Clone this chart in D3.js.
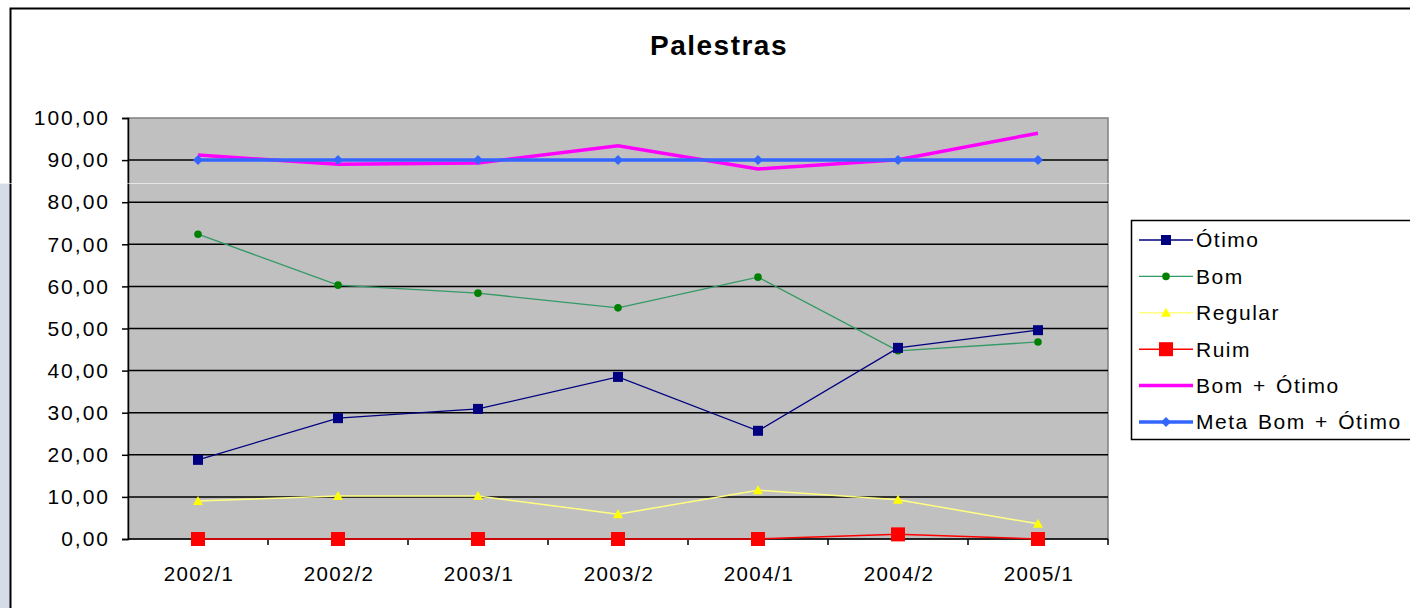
<!DOCTYPE html>
<html>
<head>
<meta charset="utf-8">
<script src="https://cdn.jsdelivr.net/npm/d3@7"></script>
<style>
  body { margin: 0; background: #fff; }
  svg { display: block; font-family: "Liberation Sans", Arial, sans-serif; }
</style>
</head>
<body>
<script>
// chart data
const categories = ["2002/1", "2002/2", "2003/1", "2003/2", "2004/1", "2004/2", "2005/1"];
const otimo = [18.8, 28.7, 30.9, 38.5, 25.7, 45.4, 49.6];
const bom = [72.4, 60.3, 58.4, 54.9, 62.2, 44.7, 46.8];
const regular = [9.0, 10.2, 10.2, 5.9, 11.6, 9.3, 3.6];
const ruim = [0, 0, 0, 0, 0, 1.1, 0];
const bomOtimo = [91.2, 89.0, 89.3, 93.4, 87.9, 90.1, 96.4];
const meta = [90, 90, 90, 90, 90, 90, 90];
const yTicks = [0, 10, 20, 30, 40, 50, 60, 70, 80, 90, 100];

const series = [
  {name: "Ótimo", values: otimo, line: "#000080", width: 1.3, marker: "square", mfill: "#000080", msize: 10},
  {name: "Bom", values: bom, line: "#339966", width: 1.3, marker: "circle", mfill: "#008000", msize: 8},
  {name: "Regular", values: regular, line: "#ffff80", width: 1.5, marker: "triangle", mfill: "#ffff00", msize: 10},
  {name: "Ruim", values: ruim, line: "#ff0000", width: 1.5, marker: "square", mfill: "#ff0000", msize: 14},
  {name: "Bom + Ótimo", values: bomOtimo, line: "#ff00ff", width: 3.5, marker: null},
  {name: "Meta Bom + Ótimo", values: meta, line: "#3366ff", width: 3.5, marker: "diamond", mfill: "#3366ff", msize: 10}
];

const W = 1410, H = 608;
const svg = d3.select("body").append("svg").attr("width", W).attr("height", H);

// slide strip on the left + frame
svg.append("rect").attr("x", 0).attr("y", 183).attr("width", 10).attr("height", H - 183).attr("fill", "#d5dbe8");
svg.append("rect").attr("x", 10.5).attr("y", 8.5).attr("width", W + 20).attr("height", H + 20)
  .attr("fill", "#fff").attr("stroke", "#000").attr("stroke-width", 2);

const x = d3.scaleBand().domain(categories).range([128, 1108]);
const y = d3.scaleLinear().domain([0, 100]).range([539, 118]);

// plot area
svg.append("rect").attr("x", 128).attr("y", 118).attr("width", 980).attr("height", 421)
  .attr("fill", "#c0c0c0").attr("stroke", "#808080").attr("stroke-width", 1.5);

// gridlines
svg.append("g").selectAll("line").data(yTicks.filter(d => d > 0 && d < 100)).enter().append("line")
  .attr("x1", 128).attr("x2", 1108).attr("y1", d => y(d)).attr("y2", d => y(d))
  .attr("stroke", "#000").attr("stroke-width", 1.5);

// y axis
const yAxis = svg.append("g").attr("transform", "translate(128,0)")
  .call(d3.axisLeft(y).tickValues(yTicks).tickSize(6).tickPadding(12)
    .tickFormat(d => d3.format(".2f")(d).replace(".", ",")));
// x axis
const xAxis = svg.append("g").attr("transform", "translate(0,539)")
  .call(d3.axisBottom(x).tickSize(0).tickPadding(27));
xAxis.selectAll(".tick").each(function(d, i) {
  d3.select(this).append("line").attr("x1", x.bandwidth() / 2).attr("x2", x.bandwidth() / 2)
    .attr("y1", 0).attr("y2", 6).attr("stroke", "#000").attr("stroke-width", 1.5);
});
[yAxis, xAxis].forEach(a => {
  a.select(".domain").attr("stroke", "#000").attr("stroke-width", 1.5);
  a.selectAll("line").attr("stroke", "#000").attr("stroke-width", 1.5);
  a.selectAll("text").attr("fill", "#000").attr("font-family", "Liberation Sans, Arial, sans-serif");
});
yAxis.selectAll("text").attr("font-size", 21).attr("letter-spacing", 2);
xAxis.selectAll("text").attr("font-size", 20.5).attr("letter-spacing", 1.3).attr("dx", "0.05em");
xAxis.select(".domain").attr("d", "M128,0H1108");

// faint slide artifact line
svg.append("line").attr("x1", 0).attr("x2", W).attr("y1", 183.5).attr("y2", 183.5)
  .attr("stroke", "#fff").attr("stroke-opacity", 0.6).attr("stroke-width", 1);

function markerPath(type, size) {
  const s = size / 2;
  if (type === "square") return `M${-s},${-s}H${s}V${s}H${-s}Z`;
  if (type === "diamond") return `M0,${-s}L${s},0L0,${s}L${-s},0Z`;
  if (type === "triangle") return `M0,${-s}L${s},${s * 0.8}L${-s},${s * 0.8}Z`;
  if (type === "circle") return d3.symbol(d3.symbolCircle, size * size * 0.7)();
  return "";
}

const cx = d => x(d) + x.bandwidth() / 2;
const line = d3.line().x((d, i) => cx(categories[i])).y(d => y(d));

const drawOrder = [4, 5, 1, 0, 2, 3];
drawOrder.forEach(k => {
  const s = series[k];
  const g = svg.append("g");
  g.append("path").attr("d", line(s.values)).attr("fill", "none")
    .attr("stroke", s.line).attr("stroke-width", s.width);
  if (s.marker) {
    g.selectAll("path.m").data(s.values).enter().append("path").attr("class", "m")
      .attr("transform", (d, i) => `translate(${cx(categories[i])},${y(d)})`)
      .attr("d", markerPath(s.marker, s.msize)).attr("fill", s.mfill);
  }
});

// title
svg.append("text").attr("x", 719).attr("y", 55).attr("text-anchor", "middle")
  .attr("font-size", 28).attr("font-weight", "bold").attr("letter-spacing", 1.5).text("Palestras");

// legend
const legend = svg.append("g");
legend.append("rect").attr("x", 1131.5).attr("y", 220.5).attr("width", 300).attr("height", 219)
  .attr("fill", "#fff").attr("stroke", "#000").attr("stroke-width", 1.5);
const legY = d3.scalePoint().domain(series.map(s => s.name)).range([240, 422]);
series.forEach(s => {
  const ly = legY(s.name);
  legend.append("line").attr("x1", 1139).attr("x2", 1193).attr("y1", ly).attr("y2", ly)
    .attr("stroke", s.line).attr("stroke-width", s.width);
  if (s.marker) {
    legend.append("path").attr("transform", `translate(1166,${ly})`)
      .attr("d", markerPath(s.marker, s.msize)).attr("fill", s.mfill);
  }
  legend.append("text").attr("x", 1196).attr("y", ly).attr("dy", "0.35em")
    .attr("font-size", 21).attr("letter-spacing", 1.5).attr("word-spacing", 2).text(s.name);
});
</script>
</body>
</html>
